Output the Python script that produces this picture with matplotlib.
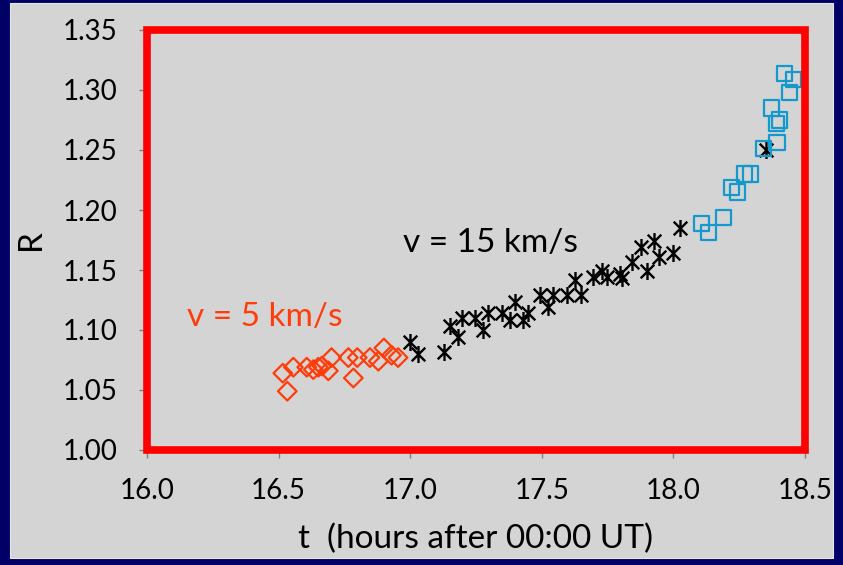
import matplotlib.pyplot as plt
import numpy as np
from matplotlib.path import Path
from matplotlib.patches import Rectangle

# ================= DATA =================
t_slow = [16.516, 16.533, 16.556, 16.607, 16.632, 16.651, 16.665, 16.689, 16.701,
          16.765, 16.784, 16.799, 16.847, 16.879, 16.900, 16.929, 16.954]
r_slow = [1.064, 1.049, 1.069, 1.069, 1.067, 1.069, 1.070, 1.066, 1.077,
          1.077, 1.060, 1.077, 1.077, 1.074, 1.085, 1.079, 1.077]

t_mid = [16.999, 17.030, 17.129, 17.151, 17.182, 17.195, 17.246, 17.277, 17.296,
         17.347, 17.379, 17.398, 17.429, 17.448, 17.493, 17.524, 17.543, 17.594,
         17.625, 17.648, 17.695, 17.727, 17.746, 17.797, 17.803, 17.844, 17.876,
         17.898, 17.925, 17.945, 17.997, 18.024, 18.353]
r_mid = [1.090, 1.080, 1.082, 1.103, 1.094, 1.110, 1.110, 1.100, 1.114,
         1.114, 1.108, 1.123, 1.108, 1.114, 1.129, 1.119, 1.129, 1.129,
         1.142, 1.129, 1.144, 1.149, 1.144, 1.147, 1.143, 1.157, 1.169,
         1.149, 1.174, 1.161, 1.164, 1.185, 1.250]

t_fast = [18.107, 18.132, 18.191, 18.222, 18.245, 18.271, 18.294, 18.343, 18.372,
          18.391, 18.404, 18.394, 18.423, 18.442, 18.455]
r_fast = [1.189, 1.181, 1.194, 1.219, 1.215, 1.230, 1.230, 1.251, 1.285,
          1.272, 1.275, 1.256, 1.314, 1.298, 1.309]

x_ticks = [16.0, 16.5, 17.0, 17.5, 18.0, 18.5]
y_ticks = [1.00, 1.05, 1.10, 1.15, 1.20, 1.25, 1.30, 1.35]

# ================= STYLE =================
plt.rcParams['font.family'] = ['Lato', 'DejaVu Sans']
BG = '#d4d4d4'
NAVY = '#000066'
ORANGE = '#ff3d0a'
BLUE = '#1499cc'

# Excel-style star: X plus vertical bar
star = Path([(-1, -1), (1, 1), (-1, 1), (1, -1), (0, -1.25), (0, 1.25)],
            [Path.MOVETO, Path.LINETO, Path.MOVETO, Path.LINETO, Path.MOVETO, Path.LINETO])

fig = plt.figure(figsize=(8.43, 5.65), dpi=100)
fig.patch.set_facecolor(NAVY)
fig.patches.append(Rectangle((10 / 843, 7 / 565), 823 / 843, 555 / 565,
                             transform=fig.transFigure, facecolor=BG,
                             edgecolor='#e8e8e8', linewidth=0.8, zorder=-5))

ax = fig.add_axes([147 / 843, 1 - 450 / 565, 658 / 843, 420 / 565])
ax.set_facecolor(BG)
ax.set_zorder(2)

ax.scatter(t_slow, r_slow, marker='D', s=90, facecolors='none',
           edgecolors=ORANGE, linewidths=1.6, zorder=3, clip_on=False)
ax.scatter(t_mid, r_mid, marker=star, s=150, color='black',
           linewidths=1.7, zorder=3, clip_on=False)
ax.scatter(t_fast, r_fast, marker='s', s=120, facecolors='none',
           edgecolors=BLUE, linewidths=1.6, zorder=3, clip_on=False)

ax.set_xlim(16.0, 18.5)
ax.set_ylim(1.00, 1.35)
ax.set_xticks(x_ticks)
ax.set_xticklabels([f"{v:.1f}" for v in x_ticks])
ax.set_yticks(y_ticks)
ax.set_yticklabels([f"{v:.2f}" for v in y_ticks])
ax.tick_params(axis='x', labelsize=20, length=6, width=1, color='#808080', pad=14)
ax.tick_params(axis='y', labelsize=20, length=6, width=1, color='#808080', pad=15)

for s in ['top', 'right']:
    ax.spines[s].set_visible(False)
for s in ['left', 'bottom']:
    ax.spines[s].set_color('black')
    ax.spines[s].set_linewidth(1.0)

ax.set_xlabel("t  (hours after 00:00 UT)", fontsize=24, labelpad=14)
ax.set_ylabel("R", fontsize=24, labelpad=12)

ax.text(17.306, 1.1725, "v = 15 km/s", fontsize=24, color='black', ha='center', va='center')
ax.text(16.448, 1.111, "v = 5 km/s", fontsize=24, color=ORANGE, ha='center', va='center')

# red frame around plot area
ax.add_patch(Rectangle((0, 0), 1, 1, transform=ax.transAxes, fill=False,
                       edgecolor='#ff0000', linewidth=5.5, zorder=5, clip_on=False))

fig.savefig("out.png", dpi=100, facecolor=NAVY)
